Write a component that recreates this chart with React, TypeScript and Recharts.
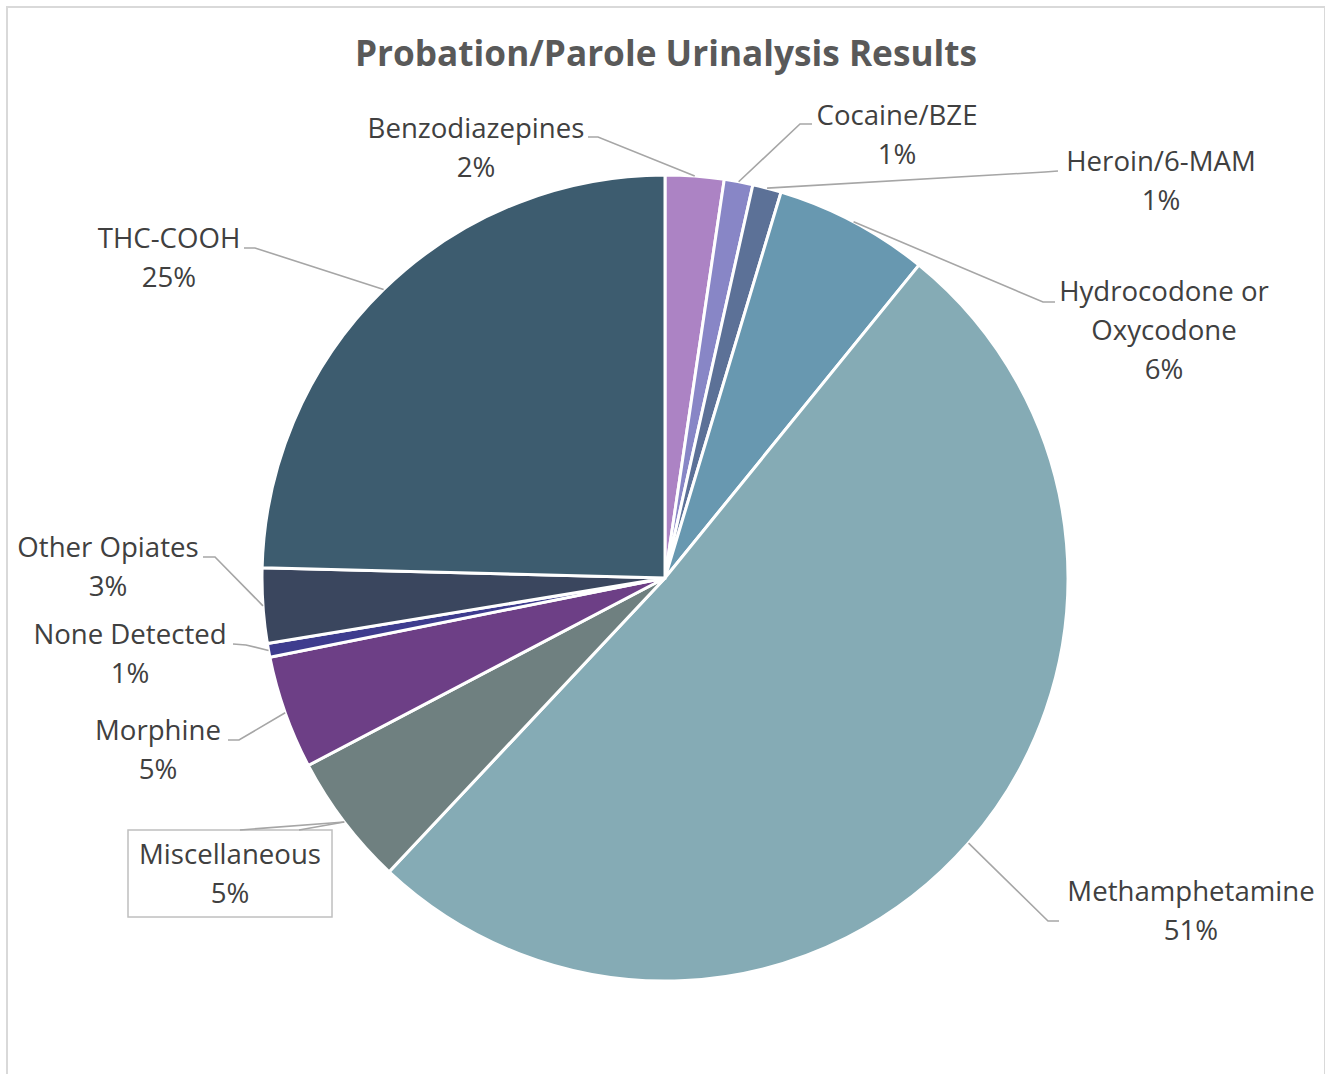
import React from "react";
import { PieChart, Pie, Cell } from "recharts";

// ---- data ----
const categories = [
  "Benzodiazepines",
  "Cocaine/BZE",
  "Heroin/6-MAM",
  "Hydrocodone or Oxycodone",
  "Methamphetamine",
  "Miscellaneous",
  "Morphine",
  "None Detected",
  "Other Opiates",
  "THC-COOH",
];
const shares = [2.35, 1.15, 1.15, 6.2, 51.15, 5.3, 4.55, 0.55, 3.0, 24.6];
const sliceColors = [
  "#AC83C4",
  "#8886C6",
  "#5C7197",
  "#6898B0",
  "#85ABB5",
  "#6F8080",
  "#6D3F86",
  "#3E3C8E",
  "#3A465E",
  "#3D5C6F",
];
const titleText = "Probation/Parole Urinalysis Results";

// ---- label layout (positions of the data labels & leader elbows) ----
type LabelLayout = {
  lines: string[];
  x: number;
  y: number;
  sx: number;
  sy: number;
  kx: number;
  ky: number;
  box?: { x: number; y: number; w: number; h: number };
  extra?: [number, number];
};
const labelLayout: LabelLayout[] = [
  { lines: ["Benzodiazepines"], x: 476, y: 138, sx: 588, sy: 137, kx: 598, ky: 137 },
  { lines: ["Cocaine/BZE"], x: 897, y: 125, sx: 812, sy: 124, kx: 800, ky: 124 },
  { lines: ["Heroin/6-MAM"], x: 1161, y: 171, sx: 1058, sy: 171, kx: 1045, ky: 172 },
  { lines: ["Hydrocodone or", "Oxycodone"], x: 1164, y: 301, sx: 1055, sy: 302, kx: 1043, ky: 302 },
  { lines: ["Methamphetamine"], x: 1191, y: 901, sx: 1059, sy: 921, kx: 1048, ky: 921 },
  {
    lines: ["Miscellaneous"], x: 230, y: 864, sx: 240, sy: 830, kx: 240, ky: 830,
    box: { x: 128, y: 830, w: 204, h: 87 }, extra: [299, 830],
  },
  { lines: ["Morphine"], x: 158, y: 740, sx: 228, sy: 740, kx: 239, ky: 740 },
  { lines: ["None Detected"], x: 130, y: 644, sx: 233, sy: 644, kx: 246, ky: 645 },
  { lines: ["Other Opiates"], x: 108, y: 557, sx: 203, sy: 557, kx: 215, ky: 557 },
  { lines: ["THC-COOH"], x: 169, y: 248, sx: 244, sy: 248, kx: 255, ky: 248 },
];

const data = categories.map((name, i) => ({ name, value: shares[i] }));

const FONT = "'Open Sans', 'Noto Sans', sans-serif";
const LINE_GAP = 39;

const renderLabel = (props: any) => {
  const { cx, cy, midAngle, outerRadius, index, percent } = props;
  const L = labelLayout[index];
  if (!L) return null;
  const a = (-midAngle * Math.PI) / 180;
  const ex = cx + outerRadius * Math.cos(a);
  const ey = cy + outerRadius * Math.sin(a);
  const lines = [...L.lines, `${Math.round(percent * 100)}%`];
  return (
    <g key={`lbl-${index}`}>
      {L.box && (
        <rect
          x={L.box.x}
          y={L.box.y}
          width={L.box.w}
          height={L.box.h}
          fill="#fff"
          stroke="#BFBFBF"
          strokeWidth={1.5}
        />
      )}
      <polyline
        points={`${L.sx},${L.sy} ${L.kx},${L.ky} ${ex},${ey}`}
        fill="none"
        stroke="#A6A6A6"
        strokeWidth={1.6}
      />
      {L.extra && (
        <line x1={L.extra[0]} y1={L.extra[1]} x2={ex} y2={ey} stroke="#A6A6A6" strokeWidth={1.6} />
      )}
      <text
        x={L.x}
        y={L.y}
        textAnchor="middle"
        fill="#404040"
        fontSize={27.6}
        fontFamily={FONT}
      >
        {lines.map((t, i) => (
          <tspan key={i} x={L.x} y={L.y + i * LINE_GAP}>
            {t}
          </tspan>
        ))}
      </text>
    </g>
  );
};

export default function App() {
  return (
    <div
      style={{
        position: "relative",
        width: 1325,
        height: 1074,
        margin: -8,
        overflow: "hidden",
        background: "#fff",
      }}
    >
      <div style={{ position: "absolute", left: 0, top: 0 }}>
        <PieChart width={1325} height={1074} margin={{ top: 0, right: 0, bottom: 0, left: 0 }}>
          <Pie
            data={data}
            dataKey="value"
            nameKey="name"
            cx={665}
            cy={578}
            outerRadius={403}
            startAngle={90}
            endAngle={-270}
            stroke="#FFFFFF"
            strokeWidth={3}
            isAnimationActive={false}
            labelLine={false}
            label={renderLabel}
          >
            {data.map((d, i) => (
              <Cell key={d.name} fill={sliceColors[i]} />
            ))}
          </Pie>
        </PieChart>
      </div>
      <svg
        width={1325}
        height={120}
        style={{ position: "absolute", left: 0, top: 0, pointerEvents: "none" }}
      >
        <text
          x={666}
          y={66}
          textAnchor="middle"
          fill="#595959"
          fontSize={35.2}
          fontWeight={700}
          fontFamily={FONT}
        >
          {titleText}
        </text>
      </svg>
      <div
        style={{
          position: "fixed",
          left: 6,
          top: 6,
          width: 1320,
          height: 1100,
          border: "2px solid #D9D9D9",
          boxSizing: "border-box",
          pointerEvents: "none",
          zIndex: 10,
        }}
      />
    </div>
  );
}
